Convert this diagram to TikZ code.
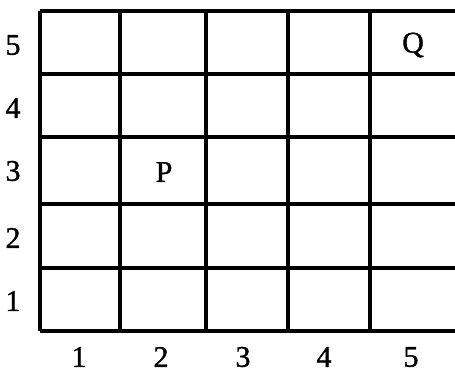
\documentclass[tikz,border=0pt]{standalone}
\usepackage{fontspec}
\setmainfont{Liberation Serif}
\newfontfamily\lblfont[FakeBold=1.2]{Liberation Serif}
\begin{document}
\begin{tikzpicture}[x=1pt,y=-1pt,
  gridline/.style={line width=3.4pt,black},
  lbl/.style={font=\lblfont\fontsize{30}{32}\selectfont,inner sep=0pt,anchor=center}]
\useasboundingbox (0,0) rectangle (455,380);
\begin{scope}
\clip (0,0) rectangle (455,380);
% horizontal lines
\foreach \y in {11,74,137,204,268,331}
  \draw[gridline] (40,\y) -- (460,\y);
% vertical lines
\foreach \x in {40,120,206,288,370}
  \draw[gridline] (\x,11) -- (\x,331);
\end{scope}
% row labels
\node[lbl] (r5) at (13,45) {5};
\node[lbl] (r4) at (13,108) {4};
\node[lbl] (r3) at (13,171) {3};
\node[lbl] (r2) at (13,238) {2};
\node[lbl] (r1) at (13,301) {1};
% column labels
\node[lbl] (c1) at (79,357) {1};
\node[lbl] (c2) at (161,357) {2};
\node[lbl] (c3) at (243,357) {3};
\node[lbl] (c4) at (324,357) {4};
\node[lbl] (c5) at (411,357) {5};
% points
\node[lbl] (P) at (164,172) {P};
\node[lbl] (Q) at (413,45) {Q};
\end{tikzpicture}
\end{document}
